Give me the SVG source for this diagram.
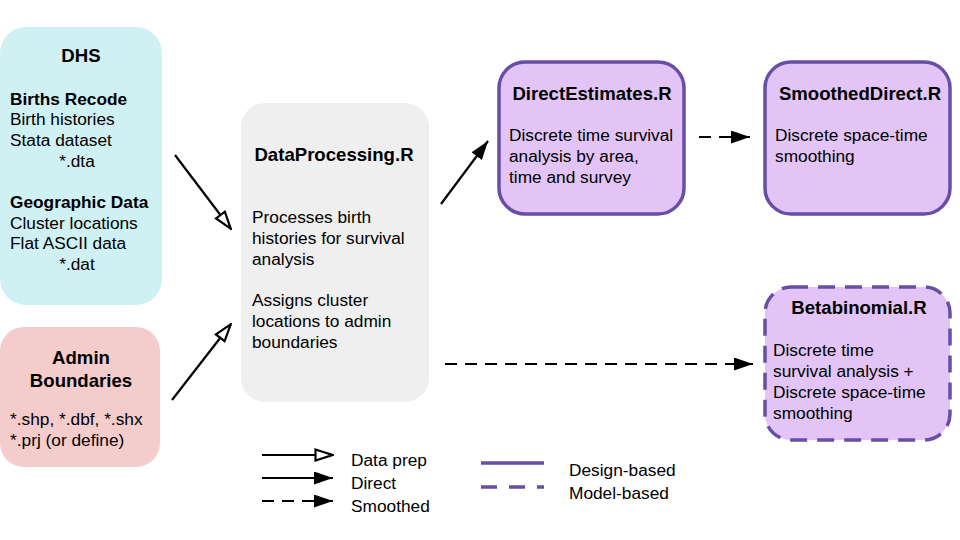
<svg xmlns="http://www.w3.org/2000/svg" width="960" height="540" viewBox="0 0 960 540">
<defs>
<style>
text{font-family:"Liberation Sans",Arial,sans-serif;font-size:17.3px;fill:#000}
.b{font-weight:bold;font-size:18.6px;text-anchor:middle}
.b2{font-weight:bold;font-size:17.3px}
.m{text-anchor:middle}
.ln{stroke:#000;stroke-width:2.2;fill:none}
.dash{stroke-dasharray:12,8}
.purple{fill:#e2c5f6;stroke:#674ea7;stroke-width:3.5}
.pd{stroke-dasharray:17,10}
</style>
<marker id="open" viewBox="0 0 20 14" refX="19" refY="7" markerWidth="20" markerHeight="14" markerUnits="userSpaceOnUse" orient="auto">
<path d="M1.5,1.5 L18.5,7 L1.5,12.5 Z" fill="#fff" stroke="#000" stroke-width="2.2"/>
</marker>
<marker id="fill" viewBox="0 0 19 13" refX="19" refY="6.5" markerWidth="19" markerHeight="13" markerUnits="userSpaceOnUse" orient="auto">
<path d="M0,0 L19,6.5 L0,13 Z" fill="#000"/>
</marker>
</defs>
<rect width="960" height="540" fill="#fff"/>

<g id="dhs">
<rect x="0" y="27" width="162" height="278" rx="26" fill="#d0f1f4"/>
<text x="81" y="62" class="b">DHS</text>
<text x="10" y="105" class="b2">Births Recode</text>
<text x="10" y="125">Birth histories</text>
<text x="10" y="146">Stata dataset</text>
<text x="77" y="167" class="m">*.dta</text>
<text x="10" y="208" class="b2">Geographic Data</text>
<text x="10" y="229">Cluster locations</text>
<text x="10" y="249">Flat ASCII data</text>
<text x="77" y="270" class="m">*.dat</text>
</g>

<g id="admin">
<rect x="0" y="327" width="160" height="140" rx="24" fill="#f4cccc"/>
<text x="81" y="364" class="b">Admin</text>
<text x="81" y="387" class="b">Boundaries</text>
<text x="10" y="425">*.shp, *.dbf, *.shx</text>
<text x="10" y="446">*.prj (or define)</text>
</g>

<g id="dataprocessing">
<rect x="241" y="103" width="188" height="299" rx="24" fill="#efefef"/>
<text x="334" y="161" class="b">DataProcessing.R</text>
<text x="252" y="223">Processes birth</text>
<text x="252" y="244">histories for survival</text>
<text x="252" y="265">analysis</text>
<text x="252" y="306">Assigns cluster</text>
<text x="252" y="327">locations to admin</text>
<text x="252" y="348">boundaries</text>
</g>

<g id="directestimates">
<rect x="499" y="62" width="185" height="152" rx="26" class="purple"/>
<text x="592" y="100" class="b">DirectEstimates.R</text>
<text x="509" y="141">Discrete time survival</text>
<text x="509" y="162">analysis by area,</text>
<text x="509" y="183">time and survey</text>
</g>

<g id="smootheddirect">
<rect x="765" y="62" width="185" height="152" rx="26" class="purple"/>
<text x="860" y="100" class="b">SmoothedDirect.R</text>
<text x="775" y="141">Discrete space-time</text>
<text x="775" y="162">smoothing</text>
</g>

<g id="betabinomial">
<rect x="765" y="287" width="185" height="153" rx="26" class="purple pd"/>
<text x="859" y="314" class="b">Betabinomial.R</text>
<text x="773" y="356">Discrete time</text>
<text x="773" y="377">survival analysis +</text>
<text x="773" y="398">Discrete space-time</text>
<text x="773" y="419">smoothing</text>
</g>

<g id="connectors">
<line x1="175" y1="155" x2="231" y2="229" class="ln" marker-end="url(#open)"/>
<line x1="172" y1="400" x2="231" y2="324" class="ln" marker-end="url(#open)"/>
<line x1="441" y1="204" x2="488" y2="141" class="ln" marker-end="url(#fill)"/>
<line x1="699" y1="137" x2="750" y2="137" class="ln dash" marker-end="url(#fill)"/>
<line x1="445" y1="364" x2="753" y2="364" class="ln dash" marker-end="url(#fill)"/>
</g>

<g id="legend">
<line x1="262" y1="455" x2="333" y2="455" class="ln" marker-end="url(#open)"/>
<line x1="262" y1="478" x2="333" y2="478" class="ln" marker-end="url(#fill)"/>
<line x1="262" y1="501" x2="333" y2="501" class="ln dash" marker-end="url(#fill)"/>
<text x="351" y="466">Data prep</text>
<text x="351" y="489">Direct</text>
<text x="351" y="512">Smoothed</text>
<line x1="481" y1="463" x2="544" y2="463" stroke="#674ea7" stroke-width="3.5"/>
<line x1="481" y1="487" x2="544" y2="487" stroke="#674ea7" stroke-width="3.5" stroke-dasharray="16,12"/>
<text x="569" y="476">Design-based</text>
<text x="569" y="499">Model-based</text>
</g>
</svg>
